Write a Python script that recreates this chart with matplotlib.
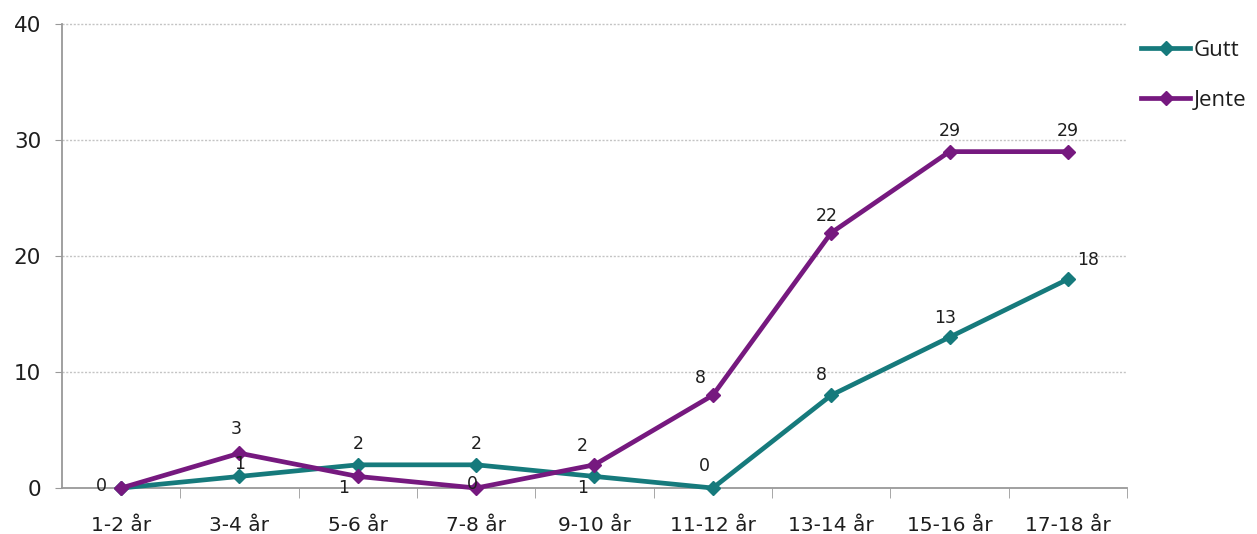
import matplotlib
matplotlib.use("Agg")
import matplotlib.pyplot as plt

categories = ["1-2 år", "3-4 år", "5-6 år", "7-8 år", "9-10 år", "11-12 år", "13-14 år", "15-16 år", "17-18 år"]
gutt = [0, 1, 2, 2, 1, 0, 8, 13, 18]
jente = [0, 3, 1, 0, 2, 8, 22, 29, 29]
y_ticks = [0, 10, 20, 30, 40]

plt.rcParams['font.family'] = ['DejaVu Sans']

fig = plt.figure(figsize=(12.57, 5.34), dpi=100)
ax = fig.add_axes([0.0493, 0.0861, 0.8473, 0.8689])

teal = "#167a7c"
purple = "#76197f"
txt = "#1e1e1e"
x = list(range(len(categories)))

ax.plot(x, gutt, color=teal, lw=3.4, marker="D", ms=7.5, label="Gutt", zorder=3)
ax.plot(x, jente, color=purple, lw=3.4, marker="D", ms=7.5, label="Jente", zorder=4)

ax.set_xlim(-0.5, len(categories) - 0.5)
ax.set_ylim(0, 40)
ax.set_yticks(y_ticks)
ax.set_yticklabels([str(v) for v in y_ticks], fontsize=15.5, color=txt)
ax.set_xticks(x)
ax.set_xticklabels(categories, fontsize=14.5, color=txt)
ax.tick_params(axis="x", length=0, pad=20)
ax.set_xticks([i + 0.5 for i in range(len(categories))], minor=True)
ax.tick_params(axis="x", which="minor", length=7, color="#999999", direction="out")
ax.tick_params(axis="y", length=5, color="#999999", direction="out", pad=10)

for v in y_ticks[1:]:
    ax.axhline(v, color="#c4c4c4", lw=1.0, ls=(0, (1.5, 1.2)), zorder=1)

for s in ["top", "right"]:
    ax.spines[s].set_visible(False)
for s in ["left", "bottom"]:
    ax.spines[s].set_color("#999999")
    ax.spines[s].set_linewidth(1.3)

# data labels (offsets in pixels)
gutt_off = [(-20, 2), (0, 12), (0, 21), (0, 21), (-12, -12), (-8, 22), (-10, 20), (-4, 19), (20, 19)]
jente_off = [(-20, 2), (-3, 24), (-14, -12), (-4, 4), (-12, 19), (-12, 17), (-4, 17), (0, 21), (0, 21)]

for i, (v, off) in enumerate(zip(gutt, gutt_off)):
    if i == 0:
        continue
    ax.annotate(str(v), (i, v), xytext=off, textcoords="offset pixels",
                ha="center", va="center", fontsize=12.5, color=txt, zorder=6)
for i, (v, off) in enumerate(zip(jente, jente_off)):
    ax.annotate(str(v), (i, v), xytext=off, textcoords="offset pixels",
                ha="center", va="center", fontsize=12.5, color=txt, zorder=6)

leg = ax.legend(loc="upper left", bbox_to_anchor=(1.005, 0.985), frameon=False,
                prop={"family": "Open Sans", "size": 16},
                handlelength=2.2, handletextpad=0.15, labelspacing=1.3,
                borderaxespad=0)
for t in leg.get_texts():
    t.set_color(txt)

for line in ax.get_lines():
    line.set_clip_on(False)

fig.savefig("out.png", dpi=100)
